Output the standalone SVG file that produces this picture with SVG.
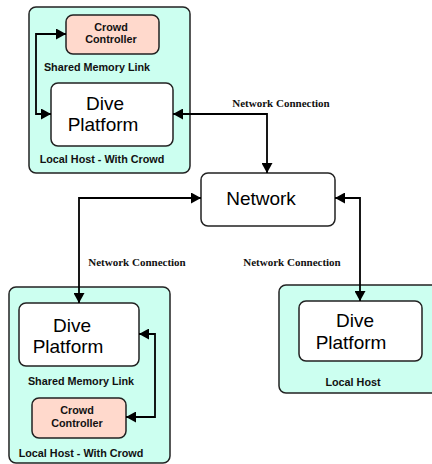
<svg xmlns="http://www.w3.org/2000/svg" width="432" height="464" viewBox="0 0 432 464">
<defs>
<style>
.host{fill:#ccfff0;stroke:#222;stroke-width:1.5}
.box{fill:#fff;stroke:#222;stroke-width:1.5}
.cc{fill:#ffd9cc;stroke:#222;stroke-width:1.5}
.big{font-family:"Liberation Sans",Arial,sans-serif;font-size:19px;fill:#000;text-anchor:middle}
.lbl{font-family:"Liberation Sans",Arial,sans-serif;font-size:10.8px;font-weight:bold;fill:#111;text-anchor:middle}
.nc{font-family:"Liberation Serif","Times New Roman",serif;font-size:11px;font-weight:bold;fill:#111;text-anchor:middle}
.con{fill:none;stroke:#000;stroke-width:1.8}
</style>
<marker id="ah" viewBox="0 0 10 11" refX="10" refY="5.5" markerWidth="10" markerHeight="11" markerUnits="userSpaceOnUse" orient="auto-start-reverse">
<path d="M0,0 L10,5.5 L0,11 z" fill="#000"/>
</marker>
</defs>

<g id="host-top-left">
<rect class="host" x="29" y="7" width="161" height="166" rx="7"/>
<text class="lbl" x="102" y="163">Local Host - With Crowd</text>
<text class="lbl" x="97" y="71">Shared Memory Link</text>
</g>
<g id="crowd-top">
<rect class="cc" x="66" y="15" width="93" height="39" rx="7"/>
<text class="lbl" x="111" y="31">Crowd</text>
<text class="lbl" x="111" y="43">Controller</text>
</g>
<g id="dive-top">
<rect class="box" x="51" y="83" width="122" height="63" rx="7"/>
<text class="big" x="105" y="110">Dive</text>
<text class="big" x="103" y="131">Platform</text>
</g>

<g id="network">
<rect class="box" x="201" y="173" width="134" height="53" rx="7"/>
<text class="big" x="261" y="205">Network</text>
</g>

<g id="host-bottom-left">
<rect class="host" x="9" y="287" width="161" height="176" rx="7"/>
<text class="lbl" x="81" y="385">Shared Memory Link</text>
<text class="lbl" x="81" y="457">Local Host - With Crowd</text>
</g>
<g id="dive-bottom-left">
<rect class="box" x="19" y="303" width="120" height="63" rx="7"/>
<text class="big" x="72" y="332">Dive</text>
<text class="big" x="68" y="353">Platform</text>
</g>
<g id="crowd-bottom">
<rect class="cc" x="32" y="398" width="94" height="40" rx="7"/>
<text class="lbl" x="77" y="414">Crowd</text>
<text class="lbl" x="77" y="427">Controller</text>
</g>

<g id="host-right">
<rect class="host" x="279" y="285" width="165" height="108" rx="7"/>
<text class="lbl" x="353" y="386">Local Host</text>
</g>
<g id="dive-right">
<rect class="box" x="299" y="301" width="123" height="60" rx="7"/>
<text class="big" x="355" y="327">Dive</text>
<text class="big" x="351" y="349">Platform</text>
</g>

<g id="connectors">
<path class="con" d="M66,34 H36 V114 H51" marker-start="url(#ah)" marker-end="url(#ah)"/>
<path class="con" d="M173,114 H267 V173" marker-start="url(#ah)" marker-end="url(#ah)"/>
<path class="con" d="M79,303 V198 H201" marker-start="url(#ah)" marker-end="url(#ah)"/>
<path class="con" d="M335,198 H360 V301" marker-start="url(#ah)" marker-end="url(#ah)"/>
<path class="con" d="M139,334 H155 V417 H126" marker-start="url(#ah)" marker-end="url(#ah)"/>
<text class="nc" x="281" y="107">Network Connection</text>
<text class="nc" x="137" y="266">Network Connection</text>
<text class="nc" x="292" y="266">Network Connection</text>
</g>
</svg>
